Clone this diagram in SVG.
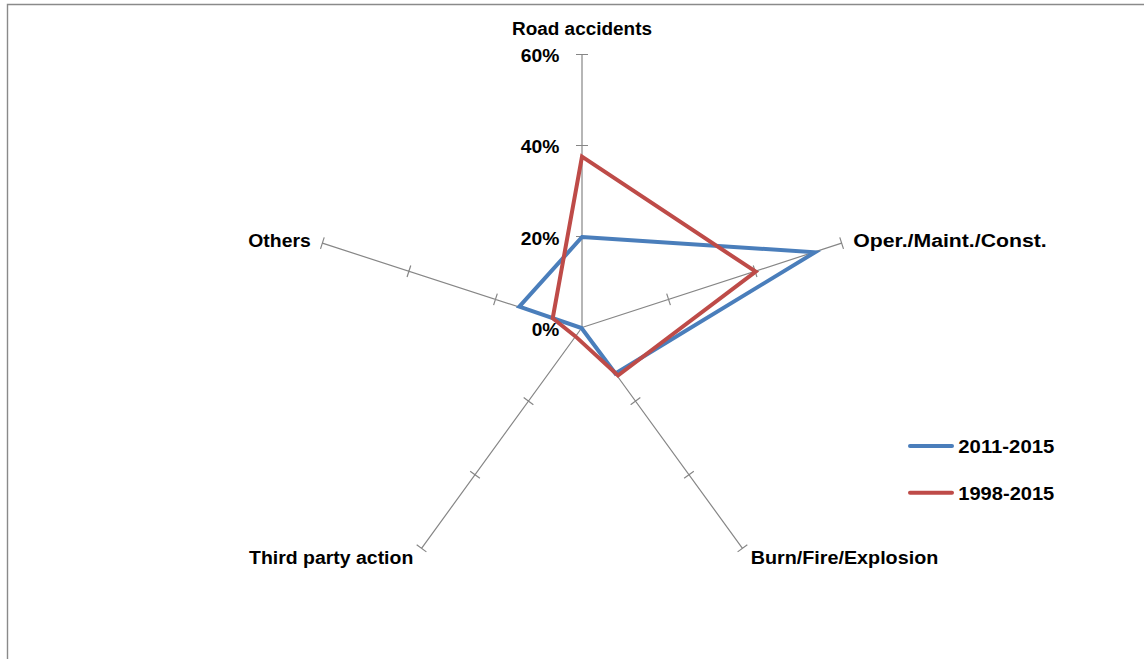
<svg xmlns="http://www.w3.org/2000/svg" width="1144" height="659" viewBox="0 0 1144 659">
<style>
  .lbl { font-family: "Liberation Sans", Arial, sans-serif; font-weight: bold; font-size: 17.5px; fill: #000; }
  .axis { stroke: #868686; stroke-width: 1.2; fill: none; }
  .s1 { stroke: #4a7ebb; stroke-width: 4; fill: none; stroke-linejoin: miter; }
  .s2 { stroke: #be4b48; stroke-width: 4; fill: none; stroke-linejoin: miter; }
</style>
<defs>
  <g id="axisShape">
    <path class="axis" d="M582,327.5 V54.5 M576,236.5 H588 M576,145.5 H588 M576,54.5 H588"/>
  </g>
</defs>
<rect width="1144" height="659" fill="#ffffff"/>
<path d="M7.5,659 V4.5 H1144" stroke="#8a8a8a" stroke-width="1.4" fill="none"/>

<g id="axes">
  <use href="#axisShape"/>
  <use href="#axisShape" transform="rotate(72 582 327.5)"/>
  <use href="#axisShape" transform="rotate(144 582 327.5)"/>
  <use href="#axisShape" transform="rotate(216 582 327.5)"/>
  <use href="#axisShape" transform="rotate(288 582 327.5)"/>
</g>

<g id="connectors">
  <polygon id="series-2011-2015" class="s1" points="582,237 815,252.3 615.4,373.5 581.5,328 519.3,306.7"/>
  <polygon id="series-1998-2015" class="s2" points="582,156.7 755.7,271.7 618,375.5 575.5,336.4 552.7,318.3"/>
</g>

<g id="scale-labels">
  <text class="lbl" x="520.7" y="62.3" textLength="38.6" lengthAdjust="spacingAndGlyphs">60%</text>
  <text class="lbl" x="520.7" y="153.3" textLength="38.6" lengthAdjust="spacingAndGlyphs">40%</text>
  <text class="lbl" x="520.7" y="244.7" textLength="38.6" lengthAdjust="spacingAndGlyphs">20%</text>
  <text class="lbl" x="531.7" y="336" textLength="27.6" lengthAdjust="spacingAndGlyphs">0%</text>
</g>

<g id="node-road">
  <text class="lbl" x="512" y="35" textLength="140" lengthAdjust="spacingAndGlyphs">Road accidents</text>
</g>
<g id="node-oper">
  <text class="lbl" x="853.3" y="247.3" textLength="193.4" lengthAdjust="spacingAndGlyphs">Oper./Maint./Const.</text>
</g>
<g id="node-burn">
  <text class="lbl" x="750.7" y="564" textLength="187.6" lengthAdjust="spacingAndGlyphs">Burn/Fire/Explosion</text>
</g>
<g id="node-third">
  <text class="lbl" x="249" y="564" textLength="164.3" lengthAdjust="spacingAndGlyphs">Third party action</text>
</g>
<g id="node-others">
  <text class="lbl" x="248.3" y="246.7" textLength="62.4" lengthAdjust="spacingAndGlyphs">Others</text>
</g>

<g id="legend">
  <line x1="910" y1="446" x2="952" y2="446" stroke="#4a7ebb" stroke-width="4" stroke-linecap="round"/>
  <text class="lbl" x="958.3" y="453.3" textLength="96" lengthAdjust="spacingAndGlyphs">2011-2015</text>
  <line x1="910" y1="492.7" x2="952" y2="492.7" stroke="#be4b48" stroke-width="4" stroke-linecap="round"/>
  <text class="lbl" x="958.3" y="500" textLength="96" lengthAdjust="spacingAndGlyphs">1998-2015</text>
</g>
</svg>
